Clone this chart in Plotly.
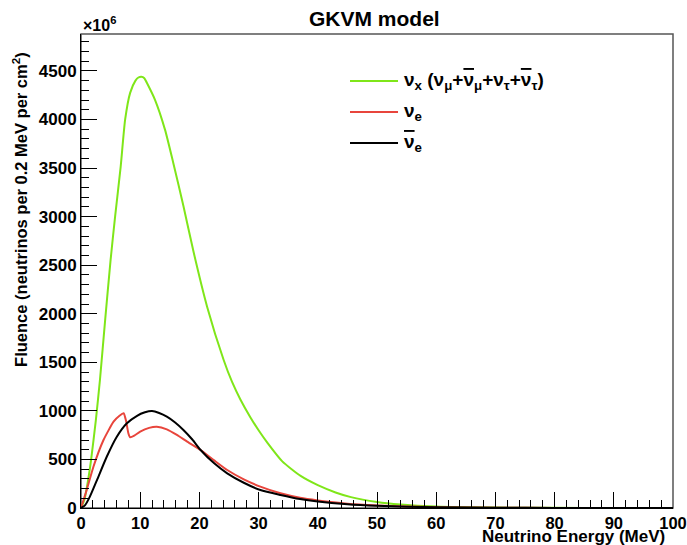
import plotly.graph_objects as go

# Neutrino energy (MeV) and fluence (x10^6 neutrinos per 0.2 MeV per cm^2)
e_x = [0, 0.6, 1.2, 1.7, 2.5, 3.2, 4.1, 5.0, 5.76, 6.7, 7.46, 8.3, 9.2, 9.7, 10.2, 10.7, 11.1,
       12.5, 14.2, 15.6, 17.3, 19.0, 21.3, 24.1, 25.5, 26.9, 28.6, 30, 31.5, 34, 37.1, 40,
       43, 45.6, 50, 54, 60, 70, 80, 90, 100]
f_x = [0, 90, 288, 494, 900, 1318, 1950, 2554, 3000, 3512, 4000, 4274, 4400, 4432, 4440, 4425, 4380,
       4202, 3893, 3550, 3110, 2640, 2073, 1524, 1300, 1120, 935, 800, 670, 480, 330, 235,
       160, 112, 62, 36, 15, 4, 1.5, 0.5, 0.2]

e_e = [0, 0.96, 2.1, 3.8, 5.5, 6.5, 7.2, 7.6, 8.0, 8.3, 9.0, 10.0, 11.5, 12.8, 14.5,
       16.2, 18, 20.2, 22.5, 24.7, 27.5, 30.3, 33.7, 37, 40, 45, 50, 55, 60, 70, 80, 100]
f_e = [0, 185, 425, 700, 889, 950, 975, 900, 770, 728, 745, 786, 825, 837, 810,
       752, 680, 597, 490, 391, 295, 220, 151, 105, 78, 45, 27, 16, 9, 3, 1, 0.2]

e_eb = [0, 0.7, 1.5, 2.7, 4.35, 6.05, 7.75, 9.4, 10.8, 12.0, 13.2, 14.5, 15.9, 17.3,
        18.8, 20.2, 22.5, 24.7, 27.5, 30.3, 33.7, 37, 40, 45, 50, 55, 60, 70, 80, 100]
f_eb = [0, 30, 117, 288, 528, 734, 872, 947, 985, 998, 978, 940, 880, 803,
        705, 597, 460, 357, 260, 185, 134, 92, 66, 38, 22, 13, 7, 2.5, 0.8, 0.2]

x_ticks = [0, 10, 20, 30, 40, 50, 60, 70, 80, 90, 100]
y_ticks = [0, 500, 1000, 1500, 2000, 2500, 3000, 3500, 4000, 4500]

GREEN = "#7fe619"
RED = "#e8453c"
BLACK = "#000000"
FONT = "Liberation Sans"

fig = go.Figure()
fig.add_trace(go.Scatter(x=e_x, y=f_x, mode="lines", line=dict(color=GREEN, width=2, shape="spline", smoothing=0.6)))
fig.add_trace(go.Scatter(x=e_e, y=f_e, mode="lines", line=dict(color=RED, width=2, shape="spline", smoothing=0.5)))
fig.add_trace(go.Scatter(x=e_eb, y=f_eb, mode="lines", line=dict(color=BLACK, width=2, shape="spline", smoothing=0.6)))

ytickfont = dict(family=FONT, size=17, color="black", weight="bold")
xtickfont = dict(family=FONT, size=16.5, color="black", weight="bold")
fig.update_layout(
    width=687, height=545,
    margin=dict(l=81, r=14, t=34, b=37, autoexpand=False),
    paper_bgcolor="white", plot_bgcolor="white",
    showlegend=False,
    xaxis=dict(range=[0, 100], tickvals=x_ticks, ticks="inside", ticklen=16, tickwidth=1,
               tickcolor="black", showgrid=False, zeroline=False, showline=True,
               linecolor="black", linewidth=1, tickfont=xtickfont, ticklabeloverflow="allow",
               automargin=False,
               minor=dict(dtick=2, ticks="inside", ticklen=8, tickcolor="black", showgrid=False)),
    yaxis=dict(range=[0, 4880], tickvals=y_ticks, ticks="inside", ticklen=16, tickwidth=1,
               tickcolor="black", showgrid=False, zeroline=False, showline=True,
               linecolor="black", linewidth=1, tickfont=ytickfont, ticklabeloverflow="allow",
               automargin=False,
               minor=dict(dtick=100, ticks="inside", ticklen=8, tickcolor="black", showgrid=False)),
)

# frame
fig.add_shape(type="rect", xref="paper", yref="paper", x0=0, x1=1, y0=0, y1=1,
              line=dict(color="#555555", width=1.5), layer="below")

NUBAR = '<span style="text-decoration:overline">ν</span>'
# legend (manual, ROOT style)
leg = [
    (GREEN, 0.9008, "<b>ν<sub>x</sub> (ν<sub>μ</sub>+" + NUBAR + "<sub>μ</sub>+ν<sub>τ</sub>+" + NUBAR + "<sub>τ</sub>)</b>"),
    (RED, 0.8354, "<b>ν<sub>e</sub></b>"),
    (BLACK, 0.770, "<b>" + NUBAR + "<sub>e</sub></b>"),
]
for col, yy, txt in leg:
    fig.add_shape(type="line", xref="paper", yref="paper", x0=0.4544, x1=0.5355, y0=yy, y1=yy,
                  line=dict(color=col, width=2))
    fig.add_annotation(xref="paper", yref="paper", x=0.542, y=yy, text=txt, showarrow=False,
                       xanchor="left", yanchor="middle", font=dict(family=FONT, size=19, color="black"))

# titles
fig.add_annotation(xref="paper", yref="paper", x=0.495, y=1.032, text="<b>GKVM model</b>",
                   showarrow=False, xanchor="center", yanchor="middle",
                   font=dict(family=FONT, size=21, color="black"))
fig.add_annotation(xref="paper", yref="paper", x=0.99, y=-0.06, text="<b>Neutrino Energy (MeV)</b>",
                   showarrow=False, xanchor="right", yanchor="middle",
                   font=dict(family=FONT, size=17, color="black"))
fig.add_annotation(xref="paper", yref="paper", x=-0.103, y=0.629,
                   text="<b>Fluence (neutrinos per 0.2 MeV per cm<sup>2</sup>)</b>",
                   showarrow=False, textangle=-90, xanchor="center", yanchor="middle",
                   font=dict(family=FONT, size=16.5, color="black"))
fig.add_annotation(xref="paper", yref="paper", x=0.0, y=1.021, text="<b>×10<sup>6</sup></b>",
                   showarrow=False, xanchor="left", yanchor="middle",
                   font=dict(family=FONT, size=16, color="black"))

fig.write_html("out.html", config={"displayModeBar": False},
               post_script="document.body.style.margin='0';document.body.style.overflow='hidden';")
